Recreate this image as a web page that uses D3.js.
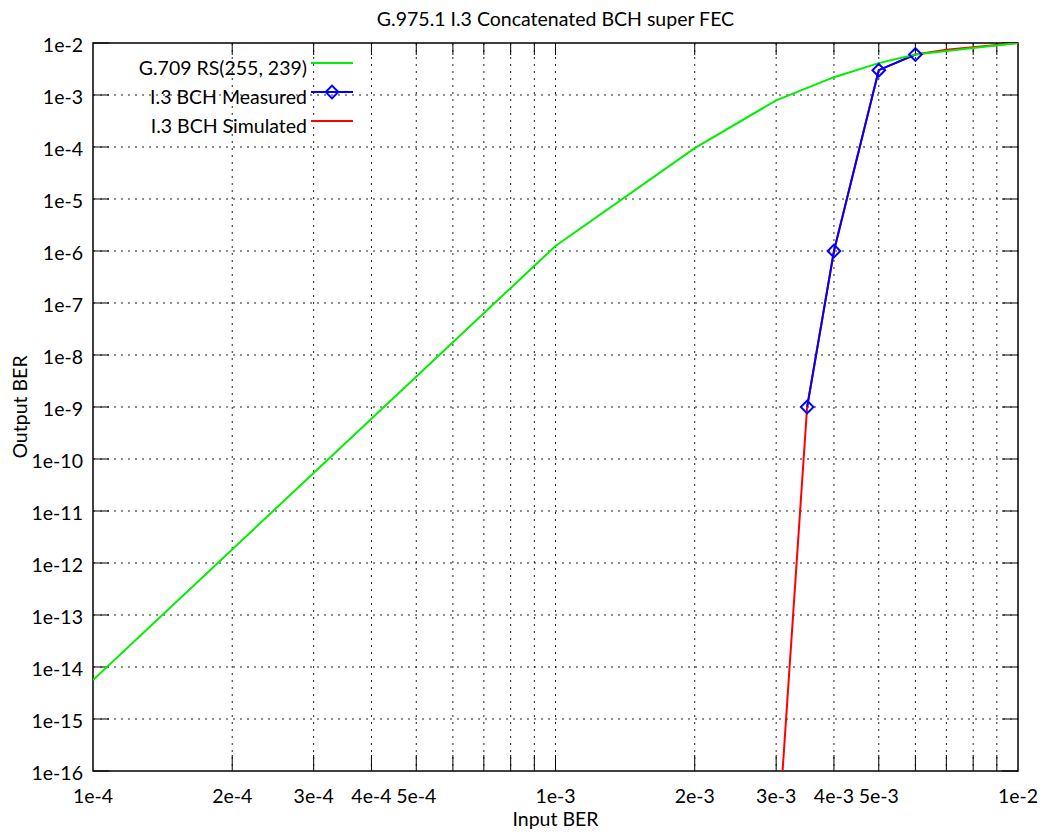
<html>
<script src="https://d3js.org/d3.v7.js"></script>
<body style="margin:0;background:#fff;">
<svg id="chart" width="1043" height="837"></svg>
<script>
    // data
    let rsX = [1e-4, 1e-3, 2e-3, 3e-3, 4e-3, 5e-3, 6e-3, 7e-3, 1e-2];
    let rsY = [5.6e-15, 1.25e-6, 9.5e-5, 7.9e-4, 2.2e-3, 4.1e-3, 6.0e-3, 7.0e-3, 1e-2];

    let measX = [3.5e-3, 4e-3, 5e-3, 6e-3];
    let measY = [1e-9, 1e-6, 3e-3, 6e-3];

    let simX = [3e-3, 3.5e-3, 4e-3, 5e-3, 6e-3, 7e-3, 1e-2];
    let simY = [1.5e-18, 1e-9, 1e-6, 3e-3, 6e-3, 7.4e-3, 1e-2];

    let xLabels = ["1e-4", "2e-4", "3e-4", "4e-4", "5e-4", "1e-3", "2e-3", "3e-3", "4e-3", "5e-3", "1e-2"];
    let xLabelVals = [1e-4, 2e-4, 3e-4, 4e-4, 5e-4, 1e-3, 2e-3, 3e-3, 4e-3, 5e-3, 1e-2];
    let yExps = [-2, -3, -4, -5, -6, -7, -8, -9, -10, -11, -12, -13, -14, -15, -16];

    let legendNames = ["G.709 RS(255, 239)", "I.3 BCH Measured", "I.3 BCH Simulated"];
    let legendColors = ["#00ee00", "#0000ff", "#ff0000"];

    let svg = d3.select("#chart");
    let pLeft = 93, pRight = 1018, pTop = 43, pBottom = 771;
    let font = "Lato, 'Open Sans', sans-serif";
    let fs = 19.5;

    let x = d3.scaleLog().domain([1e-4, 1e-2]).range([pLeft, pRight]);
    let y = d3.scaleLog().domain([1e-16, 1e-2]).range([pBottom, pTop]);

    svg.append("defs").append("clipPath").attr("id", "clip")
        .append("rect").attr("x", pLeft).attr("y", pTop)
        .attr("width", pRight - pLeft).attr("height", pBottom - pTop);

    // grid: vertical at every 1..9 multiple, horizontal at decades
    let xGrid = [];
    [1e-4, 1e-3].forEach(d => { for (let k = 1; k <= 9; k++) xGrid.push(d * k); });
    xGrid = xGrid.filter(v => v > 1e-4 * 1.01);
    svg.append("g").selectAll("line").data(xGrid).join("line")
        .attr("x1", d => x(d)).attr("x2", d => x(d))
        .attr("y1", pTop).attr("y2", pBottom)
        .attr("stroke", "#222").attr("stroke-width", 1)
        .attr("stroke-dasharray", "2,5");
    svg.append("g").selectAll("line").data(yExps.slice(1, -1)).join("line")
        .attr("x1", pLeft).attr("x2", pRight)
        .attr("y1", d => y(Math.pow(10, d))).attr("y2", d => y(Math.pow(10, d)))
        .attr("stroke", "#222").attr("stroke-width", 1)
        .attr("stroke-dasharray", "2,5");

    // ticks on all four sides
    let tl = 16;
    let tk = svg.append("g").attr("stroke", "#000").attr("stroke-width", 1);
    xGrid.forEach(v => {
        tk.append("line").attr("x1", x(v)).attr("x2", x(v)).attr("y1", pBottom).attr("y2", pBottom - tl);
        tk.append("line").attr("x1", x(v)).attr("x2", x(v)).attr("y1", pTop).attr("y2", pTop + tl * 0.75);
    });
    yExps.forEach(e => {
        let yy = y(Math.pow(10, e));
        tk.append("line").attr("x1", pLeft).attr("x2", pLeft + tl).attr("y1", yy).attr("y2", yy);
        tk.append("line").attr("x1", pRight).attr("x2", pRight - tl).attr("y1", yy).attr("y2", yy);
    });

    svg.append("rect").attr("x", pLeft).attr("y", pTop)
        .attr("width", pRight - pLeft).attr("height", pBottom - pTop)
        .attr("fill", "none").attr("stroke", "#000").attr("stroke-width", 1.5);

    // tick labels
    svg.append("g").selectAll("text").data(xLabelVals).join("text")
        .attr("x", d => x(d)).attr("y", 803)
        .attr("text-anchor", "middle")
        .attr("font-family", font).attr("font-size", fs)
        .text((d, i) => xLabels[i]);
    svg.append("g").selectAll("text").data(yExps).join("text")
        .attr("x", 83).attr("y", d => y(Math.pow(10, d)) + 9)
        .attr("text-anchor", "end")
        .attr("font-family", font).attr("font-size", fs)
        .text(d => "1e" + d);

    // titles
    svg.append("text").attr("x", (pLeft + pRight) / 2).attr("y", 26)
        .attr("text-anchor", "middle").attr("font-family", font).attr("font-size", fs)
        .text("G.975.1 I.3 Concatenated BCH super FEC");
    svg.append("text").attr("x", (pLeft + pRight) / 2).attr("y", 826)
        .attr("text-anchor", "middle").attr("font-family", font).attr("font-size", fs)
        .text("Input BER");
    svg.append("text").attr("transform", "translate(27,407) rotate(-90)")
        .attr("text-anchor", "middle").attr("font-family", font).attr("font-size", fs)
        .text("Output BER");

    // curves
    let line = d3.line().x(d => x(d[0])).y(d => y(d[1]));
    let plot = svg.append("g").attr("clip-path", "url(#clip)");

    plot.append("path").datum(simX.map((v, i) => [v, simY[i]]))
        .attr("d", line).attr("fill", "none")
        .attr("stroke", legendColors[2]).attr("stroke-width", 2);

    plot.append("path").datum(measX.map((v, i) => [v, measY[i]]))
        .attr("d", line).attr("fill", "none")
        .attr("stroke", legendColors[1]).attr("stroke-width", 2);

    plot.append("path").datum(rsX.map((v, i) => [v, rsY[i]]))
        .attr("d", line).attr("fill", "none")
        .attr("stroke", legendColors[0]).attr("stroke-width", 2);

    let diamond = d3.symbol().type(d3.symbolSquare).size(80);
    plot.append("g").selectAll("path").data(measX).join("path")
        .attr("d", diamond)
        .attr("transform", (d, i) => `translate(${x(d)},${y(measY[i])}) rotate(45)`)
        .attr("fill", "none").attr("stroke", legendColors[1]).attr("stroke-width", 2);

    // legend
    let ly = [63, 92, 121];
    let lg = svg.append("g");
    legendNames.forEach((n, i) => {
        lg.append("text").attr("x", 307).attr("y", ly[i] + 11.5)
            .attr("text-anchor", "end").attr("font-family", font).attr("font-size", fs)
            .text(n);
        lg.append("line").attr("x1", 311).attr("x2", 353).attr("y1", ly[i]).attr("y2", ly[i])
            .attr("stroke", legendColors[i]).attr("stroke-width", 2);
    });
    lg.append("path").attr("d", diamond)
        .attr("transform", `translate(332,${ly[1]}) rotate(45)`)
        .attr("fill", "none").attr("stroke", legendColors[1]).attr("stroke-width", 2);
</script>
</body>
</html>
